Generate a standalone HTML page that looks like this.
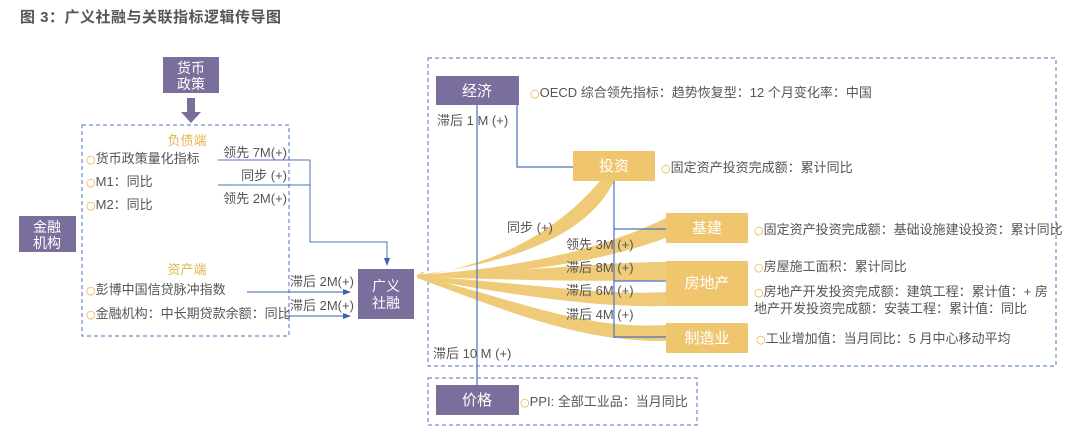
<!DOCTYPE html>
<html><head><meta charset="utf-8"><style>
body{margin:0;background:#fff;width:1080px;height:438px;overflow:hidden}
svg text{font-family:"Liberation Sans","Noto Sans CJK SC",sans-serif}
.o{font-family:"DejaVu Sans",sans-serif;fill:#f0a830;font-size:11px}
</style></head><body>
<svg width="1080" height="438" xmlns="http://www.w3.org/2000/svg">
<defs>
<marker id="ab" markerWidth="8" markerHeight="8" refX="7" refY="4" orient="auto" markerUnits="userSpaceOnUse"><path d="M0,1 L8,4 L0,7 Z" fill="#3a62b0"/></marker>
</defs>
<text x="20" y="22" font-size="15" font-weight="bold" fill="#555" letter-spacing="0.5">图 3：广义社融与关联指标逻辑传导图</text>

<!-- left part -->
<rect x="163" y="57" width="56" height="36" fill="#7a6e9c"/>
<text x="191" y="73" font-size="14" fill="#fff" text-anchor="middle">货币</text>
<text x="191" y="89" font-size="14" fill="#fff" text-anchor="middle">政策</text>
<rect x="187" y="98" width="8" height="14" fill="#7a6e9c"/>
<path d="M181,112 L201,112 L191,123 Z" fill="#7a6e9c"/>
<rect x="82" y="125" width="207" height="211" fill="none" stroke="#4a72c0" stroke-width="1" stroke-dasharray="4,3"/>
<rect x="19" y="216" width="57" height="36" fill="#7a6e9c"/>
<text x="47" y="232" font-size="14" fill="#fff" text-anchor="middle">金融</text>
<text x="47" y="248" font-size="14" fill="#fff" text-anchor="middle">机构</text>

<text x="187" y="145" font-size="13" fill="#e2b64f" text-anchor="middle">负债端</text>
<g font-size="13" fill="#555">
<text x="86" y="163"><tspan class="o">○</tspan>货币政策量化指标</text>
<text x="86" y="186"><tspan class="o">○</tspan>M1：同比</text>
<text x="86" y="209"><tspan class="o">○</tspan>M2：同比</text>
<text x="86" y="294"><tspan class="o">○</tspan>彭博中国信贷脉冲指数</text>
<text x="86" y="318"><tspan class="o">○</tspan>金融机构：中长期贷款余额：同比</text>
<text x="287" y="157" text-anchor="end">领先 7M(+)</text>
<text x="287" y="180" text-anchor="end">同步 (+)</text>
<text x="287" y="203" text-anchor="end">领先 2M(+)</text>
<text x="290" y="286">滞后 2M(+)</text>
<text x="290" y="310">滞后 2M(+)</text>
</g>
<text x="187" y="274" font-size="13" fill="#e2b64f" text-anchor="middle">资产端</text>
<path d="M218,160 H310 M218,185 H310 M310,160 V242 H387 V265" fill="none" stroke="#4a72c0" stroke-width="1" marker-end="url(#ab)"/>
<path d="M247,292 H350" stroke="#3a62b0" stroke-width="1" marker-end="url(#ab)"/>
<path d="M285,316 H350" stroke="#3a62b0" stroke-width="1" marker-end="url(#ab)"/>
<rect x="358" y="269" width="56" height="50" fill="#7a6e9c"/>
<text x="386" y="291" font-size="14" fill="#fff" text-anchor="middle">广义</text>
<text x="386" y="308" font-size="14" fill="#fff" text-anchor="middle">社融</text>

<!-- right part -->
<rect x="428" y="58" width="628" height="308" fill="none" stroke="#4a72c0" stroke-width="1" stroke-dasharray="4,3"/>
<rect x="428" y="378" width="269" height="47" fill="none" stroke="#4a72c0" stroke-width="1" stroke-dasharray="4,3"/>

<g fill="#efcb78">
<path d="M417,275 C520,262 590,232 614,181 L600,181 C560,228 500,265 417,276 Z"/>
<path d="M417,275 C520,268 600,250 666,218 L666,238 C600,262 520,274 417,277 Z"/>
<path d="M417,275 C520,272 600,262 666,262 L666,280 C600,282 520,280 417,277 Z"/>
<path d="M417,276 C520,282 600,296 666,292 L666,306 C600,308 520,296 417,278 Z"/>
<path d="M417,276 C520,300 580,330 666,325 L666,341 C580,342 510,312 417,278 Z"/>
</g>
<path d="M417,276 L424,272 M417,276 L424,280" stroke="#efcb78" stroke-width="1.5"/>

<path d="M477,105 V385" stroke="#4a72c0" stroke-width="1.2"/>
<path d="M517,105 V167 H573" fill="none" stroke="#4a72c0" stroke-width="1.2"/>
<path d="M614,181 V338 M614,229 H666 M614,281 H666 M614,337 H666" fill="none" stroke="#4a72c0" stroke-width="1.2"/>

<rect x="436" y="76" width="83" height="29" fill="#7a6e9c"/>
<text x="477" y="96" font-size="15" fill="#fff" text-anchor="middle">经济</text>
<rect x="436" y="385" width="83" height="30" fill="#7a6e9c"/>
<text x="477" y="405" font-size="15" fill="#fff" text-anchor="middle">价格</text>
<g fill="#efc66d">
<rect x="573" y="151" width="82" height="30"/>
<rect x="666" y="213" width="82" height="30"/>
<rect x="666" y="261" width="82" height="45"/>
<rect x="666" y="323" width="82" height="30"/>
</g>
<g font-size="15" fill="#fff" text-anchor="middle">
<text x="614" y="171">投资</text>
<text x="707" y="233">基建</text>
<text x="707" y="288">房地产</text>
<text x="707" y="343">制造业</text>
</g>
<g font-size="13" fill="#555">
<text x="437" y="125">滞后 1 M (+)</text>
<text x="507" y="232">同步 (+)</text>
<text x="566" y="249">领先 3M (+)</text>
<text x="566" y="272">滞后 8M (+)</text>
<text x="566" y="295">滞后 6M (+)</text>
<text x="566" y="319">滞后 4M (+)</text>
<text x="433" y="358">滞后 10 M (+)</text>
<text x="530" y="97"><tspan class="o">○</tspan>OECD 综合领先指标：趋势恢复型：12 个月变化率：中国</text>
<text x="661" y="172"><tspan class="o">○</tspan>固定资产投资完成额：累计同比</text>
<text x="754" y="234"><tspan class="o">○</tspan>固定资产投资完成额：基础设施建设投资：累计同比</text>
<text x="754" y="271"><tspan class="o">○</tspan>房屋施工面积：累计同比</text>
<text x="754" y="296"><tspan class="o">○</tspan>房地产开发投资完成额：建筑工程：累计值：+ 房</text>
<text x="754" y="313">地产开发投资完成额：安装工程：累计值：同比</text>
<text x="756" y="343"><tspan class="o">○</tspan>工业增加值：当月同比：5 月中心移动平均</text>
<text x="520" y="406"><tspan class="o">○</tspan>PPI: 全部工业品：当月同比</text>
</g>
</svg>
</body></html>
